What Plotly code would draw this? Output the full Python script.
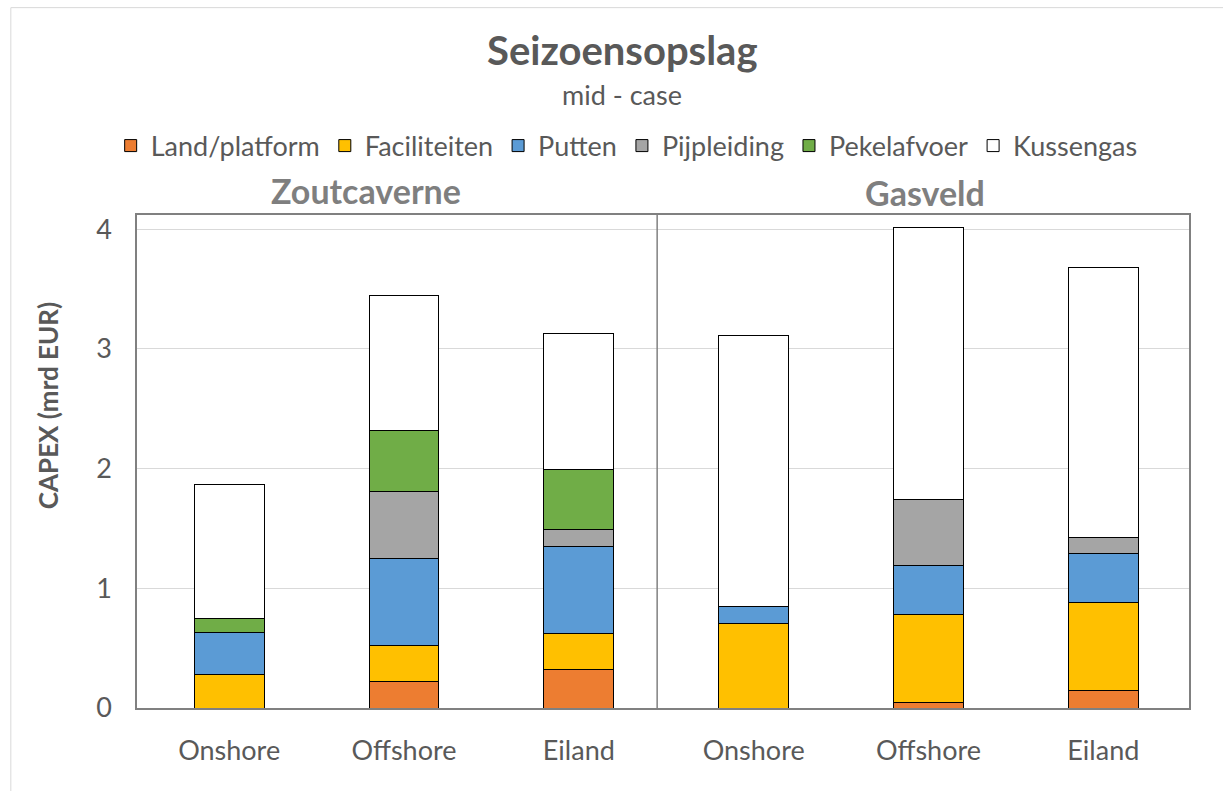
import plotly.graph_objects as go

# ---- data ----
groups = ["Zoutcaverne", "Zoutcaverne", "Zoutcaverne", "Gasveld", "Gasveld", "Gasveld"]
locations = ["Onshore", "Offshore", "Eiland", "Onshore", "Offshore", "Eiland"]
land_platform = [0.0, 0.22, 0.325, 0.0, 0.05, 0.15]
faciliteiten = [0.28, 0.30, 0.30, 0.71, 0.73, 0.73]
putten = [0.35, 0.725, 0.725, 0.14, 0.41, 0.41]
pijpleiding = [0.0, 0.56, 0.14, 0.0, 0.555, 0.135]
pekelafvoer = [0.12, 0.51, 0.50, 0.0, 0.0, 0.0]
kussengas = [1.12, 1.13, 1.14, 2.26, 2.265, 2.255]
y_ticks = [0, 1, 2, 3, 4]

series = [
    ("Land/platform", land_platform, "#ED7D31"),
    ("Faciliteiten", faciliteiten, "#FFC000"),
    ("Putten", putten, "#5B9BD5"),
    ("Pijpleiding", pijpleiding, "#A5A5A5"),
    ("Pekelafvoer", pekelafvoer, "#70AD47"),
    ("Kussengas", kussengas, "#FFFFFF"),
]

keys = [f"{g} {l}" for g, l in zip(groups, locations)]

W, H = 1223, 791
PL, PR, PT, PB = 136.7, 1189.0, 215.0, 708.3


def px_x(x):
    return (x - PL) / (PR - PL)


def px_y(y):
    return (PB - y) / (PB - PT)


FONT = "Lato"
DARK = "#595959"

fig = go.Figure()
for name, vals, col in series:
    fig.add_trace(go.Bar(
        x=keys, y=vals, name=name, width=0.4,
        marker=dict(color=col, line=dict(color="#000000", width=1)),
    ))

fig.update_layout(
    width=W, height=H,
    barmode="stack",
    paper_bgcolor="white", plot_bgcolor="white",
    margin=dict(l=PL, r=W - PR, t=PT, b=H - PB, pad=0),
    font=dict(family=FONT, color=DARK),
    showlegend=True,
    legend=dict(
        orientation="h", x=0.5 * (px_x(100) + px_x(1153)), xanchor="center",
        y=px_y(146), yanchor="middle",
        font=dict(size=27, color=DARK, family=FONT),
        traceorder="normal", itemwidth=30,
        bgcolor="rgba(0,0,0,0)",
    ),
    xaxis=dict(
        type="category", categoryorder="array", categoryarray=keys,
        tickvals=keys, ticktext=locations,
        range=[-0.527, 5.49],
        showgrid=False, zeroline=False, ticks="",
        showline=True, linecolor="#808080", linewidth=1.5, mirror=True,
        tickfont=dict(size=27, color=DARK, family=FONT),
        ticklabelstandoff=18,
    ),
    yaxis=dict(
        range=[0, 4.118], tickvals=y_ticks,
        showgrid=True, gridcolor="#D9D9D9", gridwidth=1.2,
        zeroline=False, ticks="",
        showline=True, linecolor="#808080", linewidth=1.5, mirror=True,
        tickfont=dict(size=27, color=DARK, family=FONT),
        ticklabelstandoff=18,
    ),
)

annotations = [
    dict(text="<b>Seizoensopslag</b>", x=px_x(622), y=px_y(50), font=dict(size=40, color=DARK)),
    dict(text="mid - case", x=px_x(622), y=px_y(94), font=dict(size=27, color=DARK)),
    dict(text="<b>Zoutcaverne</b>", x=px_x(366), y=px_y(190), font=dict(size=34, color="#7F7F7F")),
    dict(text="<b>Gasveld</b>", x=px_x(925), y=px_y(192), font=dict(size=34, color="#7F7F7F")),
    dict(text="<b>CAPEX (mrd EUR)</b>", x=px_x(48), y=px_y(406), textangle=-90,
         font=dict(size=26, color=DARK)),
]
for a in annotations:
    a.update(xref="paper", yref="paper", showarrow=False, xanchor="center", yanchor="middle",
             font=dict(family=FONT, **a["font"]))
    fig.add_annotation(**a)

# divider between the two groups and outer chart frame
fig.add_shape(type="line", xref="paper", yref="paper",
              x0=px_x(657), x1=px_x(657), y0=0, y1=1,
              line=dict(color="#808080", width=1.5))
fig.add_shape(type="rect", xref="paper", yref="paper",
              x0=px_x(10.5), x1=px_x(W + 20), y0=px_y(7.5), y1=px_y(H + 20),
              line=dict(color="#D9D9D9", width=1), layer="below")

fig.write_html("out.html", config={"displayModeBar": False},
               post_script="document.body.style.margin='0';")
